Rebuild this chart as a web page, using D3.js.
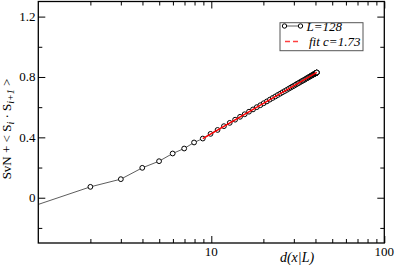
<!DOCTYPE html>
<html>
<head>
<meta charset="utf-8">
<script src="https://cdn.jsdelivr.net/npm/d3@7"></script>
<style>
  body { margin: 0; background: #fff; }
  svg { display: block; font-family: "Liberation Serif", "DejaVu Serif", serif; }
</style>
</head>
<body>
<svg width="395" height="268"></svg>
<script>
// data
var dVals = [0.95, 2.00, 3.00, 3.99, 4.99, 5.98, 6.97, 7.95, 8.93,
  9.90, 10.87, 11.83, 12.78, 13.73, 14.66, 15.59, 16.51, 17.42, 18.32,
  19.21, 20.08, 20.95, 21.80, 22.64, 23.46, 24.27, 25.07, 25.85, 26.61,
  27.36, 28.10, 28.81, 29.51, 30.19, 30.85, 31.50, 32.12, 32.73, 33.31,
  33.88, 34.42, 34.95, 35.45, 35.93, 36.39, 36.83, 37.25, 37.64, 38.01,
  38.36, 38.69, 38.99, 39.27, 39.52, 39.75, 39.96, 40.14, 40.30, 40.44,
  40.55, 40.63, 40.70, 40.73, 40.74];
var sVals = [-0.053, 0.072, 0.123, 0.198, 0.242, 0.293, 0.326, 0.366, 0.392,
  0.423, 0.449, 0.474, 0.496, 0.517, 0.536, 0.553, 0.570, 0.585, 0.600,
  0.613, 0.626, 0.638, 0.650, 0.661, 0.671, 0.681, 0.690, 0.699, 0.707,
  0.715, 0.723, 0.730, 0.737, 0.743, 0.750, 0.756, 0.761, 0.767, 0.772,
  0.776, 0.781, 0.785, 0.790, 0.793, 0.797, 0.801, 0.804, 0.807, 0.810,
  0.812, 0.815, 0.817, 0.819, 0.821, 0.822, 0.824, 0.825, 0.826, 0.827,
  0.828, 0.829, 0.829, 0.829, 0.830];
var fitX = [8.93, 40.74];
var fitY = [0.392, 0.830];
var xMajor = [10, 100];
var xMinor = [2, 3, 4, 5, 6, 7, 8, 9, 20, 30, 40, 50, 60, 70, 80, 90];
var yMajor = [0, 0.4, 0.8, 1.2];
var yMinor = [-0.2, 0.2, 0.6, 1.0];
var legendLabels = ["L=128", "fit c=1.73"];

var svg = d3.select("svg");
var x = d3.scaleLog().domain([1, 100]).range([38.3, 384.3]);
var y = d3.scaleLinear().domain([-0.3, 1.3]).range([243, 1.5]);

var pts = dVals.map(function(d, i) { return {x: d, y: sVals[i]}; });
var fit = fitX.map(function(d, i) { return {x: d, y: fitY[i]}; });

svg.append("defs").append("clipPath").attr("id", "clip")
  .append("rect")
  .attr("x", x.range()[0]).attr("y", y.range()[1])
  .attr("width", x.range()[1] - x.range()[0])
  .attr("height", y.range()[0] - y.range()[1]);

var line = d3.line().x(function(d) { return x(d.x); }).y(function(d) { return y(d.y); });

var plot = svg.append("g").attr("clip-path", "url(#clip)");
plot.append("path").datum(pts)
  .attr("d", line)
  .attr("fill", "none").attr("stroke", "#333").attr("stroke-width", 0.8);

plot.selectAll("circle").data(pts).enter().append("circle")
  .attr("cx", function(d) { return x(d.x); })
  .attr("cy", function(d) { return y(d.y); })
  .attr("r", 2.4)
  .attr("fill", "#fff").attr("stroke", "#000").attr("stroke-width", 1);

plot.append("path").datum(fit)
  .attr("d", line)
  .attr("fill", "none").attr("stroke", "#ff0000").attr("stroke-width", 1.5);

// axes: ticks inside on all four sides
function ticks(g, scale, vals, len, orient) {
  g.call(orient(scale).tickValues(vals).tickSizeInner(-len).tickSizeOuter(0).tickFormat(""))
    .call(function(s) { s.select(".domain").remove(); })
    .selectAll("line").attr("stroke", "#000").attr("stroke-width", 1);
}
var b = y.range()[0], t = y.range()[1], l = x.range()[0], r = x.range()[1];

var gb = svg.append("g").attr("transform", "translate(0," + b + ")");
ticks(gb.append("g"), x, xMajor, 7, d3.axisBottom);
ticks(gb.append("g"), x, xMinor, 4, d3.axisBottom);
var gt = svg.append("g").attr("transform", "translate(0," + t + ")");
ticks(gt.append("g"), x, xMajor, 7, d3.axisTop);
ticks(gt.append("g"), x, xMinor, 4, d3.axisTop);
var gl = svg.append("g").attr("transform", "translate(" + l + ",0)");
ticks(gl.append("g"), y, yMajor, 7, d3.axisLeft);
ticks(gl.append("g"), y, yMinor, 4, d3.axisLeft);
var gr = svg.append("g").attr("transform", "translate(" + r + ",0)");
ticks(gr.append("g"), y, yMajor, 7, d3.axisRight);
ticks(gr.append("g"), y, yMinor, 4, d3.axisRight);

svg.append("rect")
  .attr("x", l).attr("y", t).attr("width", r - l).attr("height", b - t)
  .attr("fill", "none").attr("stroke", "#000").attr("stroke-width", 1.3);

// tick labels
svg.selectAll(".xl").data(xMajor).enter().append("text")
  .attr("x", function(d) { return x(d); }).attr("y", 255.7)
  .attr("text-anchor", "middle").attr("font-size", 13)
  .text(function(d) { return d; });
svg.selectAll(".yl").data(yMajor).enter().append("text")
  .attr("x", 35.5).attr("y", function(d) { return y(d) + 4.5; })
  .attr("text-anchor", "end").attr("font-size", 13)
  .text(function(d) { return d === 0 ? "0" : d3.format(".1f")(d); });

// axis titles
svg.append("text").attr("x", 297).attr("y", 262)
  .attr("text-anchor", "middle").attr("font-size", 14).attr("font-style", "italic")
  .text("d(x|L)");

var yt = svg.append("text")
  .attr("transform", "translate(11,129) rotate(-90)")
  .attr("text-anchor", "middle").attr("font-size", 13);
yt.append("tspan").text("SvN + < S");
yt.append("tspan").attr("font-style", "italic").attr("font-size", 10).attr("dy", 3).text("i");
yt.append("tspan").attr("dy", -3).text(" · S");
yt.append("tspan").attr("font-style", "italic").attr("font-size", 10).attr("dy", 3).text("i+1");
yt.append("tspan").attr("dy", -3).text(" >");

// legend
var lg = svg.append("g");
lg.append("rect").attr("x", 280).attr("y", 22.7).attr("width", 83).attr("height", 28)
  .attr("fill", "#fff").attr("stroke", "#555").attr("stroke-width", 1);
lg.append("line").attr("x1", 284.5).attr("x2", 300.5).attr("y1", 26).attr("y2", 26)
  .attr("stroke", "#333").attr("stroke-width", 0.8);
lg.selectAll("circle").data([284.5, 300.5]).enter().append("circle")
  .attr("cx", function(d) { return d; }).attr("cy", 26).attr("r", 2.2)
  .attr("fill", "#fff").attr("stroke", "#000");
lg.append("line").attr("x1", 285).attr("x2", 301).attr("y1", 41.5).attr("y2", 41.5)
  .attr("stroke", "#ff4040").attr("stroke-width", 1.5).attr("stroke-dasharray", "5,3");
lg.selectAll("text").data(legendLabels).enter().append("text")
  .attr("x", function(d, i) { return i === 0 ? 306.5 : 309; })
  .attr("y", function(d, i) { return i === 0 ? 30.7 : 45.5; })
  .attr("font-size", 13).attr("font-style", "italic")
  .text(function(d) { return d; });
</script>
</body>
</html>
